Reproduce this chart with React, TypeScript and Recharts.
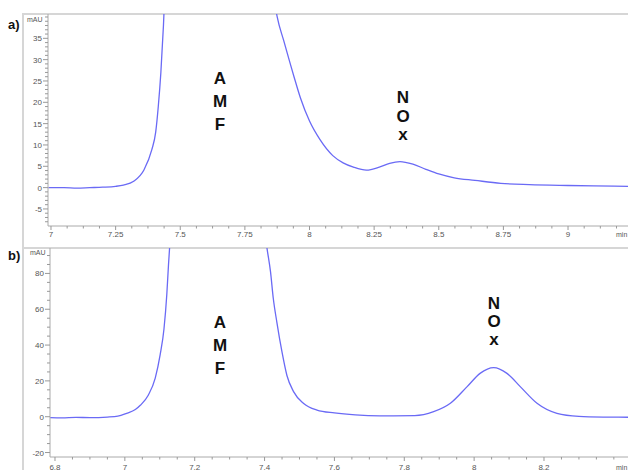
import React from 'react';
import { LineChart, Line, XAxis, YAxis } from 'recharts';

// ---- Data ----
const aTime = [6.99, 7.05, 7.1, 7.15, 7.2, 7.25, 7.28, 7.32, 7.36, 7.39, 7.405, 7.415, 7.425, 7.435, 7.45, 7.5, 7.6, 7.7, 7.8, 7.85, 7.875, 7.9, 7.94, 7.965, 8.0, 8.04, 8.09, 8.13, 8.17, 8.22, 8.27, 8.31, 8.35, 8.4, 8.45, 8.5, 8.56, 8.64, 8.74, 8.85, 9.0, 9.1, 9.232];
const aSignal = [0, 0, -0.1, 0, 0.1, 0.3, 0.6, 1.5, 4.2, 8.9, 13, 19, 27, 38, 60, 150, 400, 300, 90, 50, 40, 34.5, 26, 21, 15.6, 11.3, 7.5, 5.8, 4.8, 4.1, 4.8, 5.7, 6.1, 5.5, 4.3, 3.2, 2.3, 1.7, 1.0, 0.7, 0.5, 0.4, 0.3];

const bTime = [6.786, 6.82, 6.86, 6.9, 6.95, 6.98, 7.005, 7.03, 7.045, 7.067, 7.087, 7.101, 7.112, 7.12, 7.125, 7.13, 7.15, 7.25, 7.35, 7.39, 7.407, 7.417, 7.425, 7.435, 7.45, 7.464, 7.483, 7.511, 7.55, 7.6, 7.66, 7.73, 7.83, 7.884, 7.932, 7.98, 8.017, 8.056, 8.094, 8.132, 8.18, 8.237, 8.3, 8.37, 8.441];
const bSignal = [-0.5, -0.6, -0.4, -0.5, -0.2, 0.3, 1.9, 4, 6.5, 12, 21.5, 34.5, 49, 68, 85, 100, 180, 400, 200, 120, 94, 81, 66, 53, 36, 23, 14, 7.5, 3.7, 2.1, 1, 0.5, 0.6, 2.8, 7.5, 16.8, 24.2, 27.4, 24.2, 16.8, 7.5, 1.9, 0.2, -0.2, -0.3];

const aYMajor = [-5, 0, 5, 10, 15, 20, 25, 30, 35];
const bYMajor = [-20, 0, 20, 40, 60, 80];
const aXLastLabel = 9;
const bXLastLabel = 8.2;

const aRows = aTime.map((t, i) => ({ t, v: aSignal[i] }));
const bRows = bTime.map((t, i) => ({ t, v: bSignal[i] }));

// tick lists (major + minor)
const aXTicks: number[] = [];
for (let i = 112; i <= 147; i++) aXTicks.push(i / 16);
const aXIsMajor = (v: number) => Math.abs(v * 4 - Math.round(v * 4)) < 1e-6 && v <= aXLastLabel + 1e-6;
const bXTicks: number[] = [];
for (let i = 136; i <= 168; i++) bXTicks.push(i / 20);
const bXIsMajor = (v: number) => Math.abs(v * 5 - Math.round(v * 5)) < 1e-6 && v <= bXLastLabel + 1e-6;
const aYTicks: number[] = [];
for (let i = -8; i <= 40; i++) aYTicks.push(i);
const bYTicks: number[] = [];
for (let i = -20; i <= 90; i += 5) bYTicks.push(i);

const FONT = '"Liberation Sans", Arial, sans-serif';
const LINE = '#6a6af5';
const TXT = '#555';
const TCK = '#999';

const makeXTick = (isMajor: (v: number) => boolean, dy: number) => (props: any) => {
  const { x, y, payload } = props;
  const major = isMajor(payload.value);
  return (
    <g>
      <line x1={x} x2={x} y1={y} y2={y + (major ? 4 : 2.5)} stroke={TCK} strokeWidth={1} />
      {major && (
        <text x={x} y={y + dy} textAnchor="middle" fontSize={8} fill={TXT} fontFamily={FONT}>
          {String(payload.value)}
        </text>
      )}
    </g>
  );
};

const makeYTick = (majors: number[]) => (props: any) => {
  const { x, y, payload } = props;
  const major = majors.includes(payload.value);
  return (
    <g>
      <line x1={x - (major ? 5 : 3)} x2={x} y1={y} y2={y} stroke={TCK} strokeWidth={1} />
      {major && (
        <text x={x - 6} y={y + 3} textAnchor="end" fontSize={8} fill={TXT} fontFamily={FONT}>
          {String(payload.value)}
        </text>
      )}
    </g>
  );
};

const Letter = ({ ch, x, y }: { ch: string; x: number; y: number }) => (
  <div
    style={{
      position: 'absolute',
      left: x,
      top: y,
      transform: 'translate(-50%, -50%)',
      fontFamily: FONT,
      fontWeight: 700,
      fontSize: 17,
      lineHeight: '17px',
      color: '#111',
    }}
  >
    {ch}
  </div>
);

const Small = ({ text, x, y, size = 7 }: { text: string; x: number; y: number; size?: number }) => (
  <div
    style={{
      position: 'absolute',
      left: x,
      top: y,
      transform: 'translateY(-50%)',
      fontFamily: FONT,
      fontSize: size,
      lineHeight: `${size}px`,
      color: TXT,
      whiteSpace: 'nowrap',
    }}
  >
    {text}
  </div>
);

export default function App() {
  return (
    <div style={{ position: 'absolute', left: 0, top: 0, width: 628, height: 470, background: '#fff', overflow: 'hidden' }}>
      {/* frames */}
      <div style={{ position: 'absolute', left: 22, top: 13, width: 620, height: 232, borderTop: '2px solid #d6d6d6', borderLeft: '2px solid #d6d6d6' }} />
      <div style={{ position: 'absolute', left: 22, top: 247, width: 620, height: 240, borderTop: '2px solid #d6d6d6', borderLeft: '2px solid #d6d6d6' }} />

      {/* chart a */}
      <div style={{ position: 'absolute', left: 0, top: 0 }}>
        <LineChart width={628} height={246} data={aRows} margin={{ top: 14, right: 0, left: 0, bottom: 0 }}>
          <XAxis
            dataKey="t"
            type="number"
            domain={[6.9884, 9.232]}
            allowDataOverflow
            ticks={aXTicks}
            interval={0}
            tickSize={0}
            tickMargin={0}
            tickLine={false}
            tick={makeXTick(aXIsMajor, 11)}
            height={20}
            axisLine={{ stroke: '#aaa' }}
          />
          <YAxis
            type="number"
            domain={[-9, 40.7]}
            allowDataOverflow
            ticks={aYTicks}
            interval={0}
            tickSize={0}
            tickMargin={0}
            tickLine={false}
            tick={makeYTick(aYMajor)}
            width={48}
            axisLine={{ stroke: '#aaa' }}
          />
          <Line dataKey="v" type="monotone" stroke={LINE} strokeWidth={1.3} dot={false} isAnimationActive={false} />
        </LineChart>
      </div>

      {/* chart b */}
      <div style={{ position: 'absolute', left: 0, top: 248 }}>
        <LineChart width={628} height={222} data={bRows} margin={{ top: 0, right: 0, left: 0, bottom: 0 }}>
          <XAxis
            dataKey="t"
            type="number"
            domain={[6.7857, 8.4405]}
            allowDataOverflow
            ticks={bXTicks}
            interval={0}
            tickSize={0}
            tickMargin={0}
            tickLine={false}
            tick={makeXTick(bXIsMajor, 12.5)}
            height={13}
            axisLine={{ stroke: '#aaa' }}
          />
          <YAxis
            type="number"
            domain={[-22.5, 94.2]}
            allowDataOverflow
            ticks={bYTicks}
            interval={0}
            tickSize={0}
            tickMargin={0}
            tickLine={false}
            tick={makeYTick(bYMajor)}
            width={50}
            axisLine={{ stroke: '#aaa' }}
          />
          <Line dataKey="v" type="monotone" stroke={LINE} strokeWidth={1.3} dot={false} isAnimationActive={false} />
        </LineChart>
      </div>

      {/* panel labels */}
      <div style={{ position: 'absolute', left: 8, top: 24, transform: 'translateY(-50%)', fontFamily: FONT, fontWeight: 700, fontSize: 13, color: '#111' }}>a)</div>
      <div style={{ position: 'absolute', left: 8, top: 255, transform: 'translateY(-50%)', fontFamily: FONT, fontWeight: 700, fontSize: 13, color: '#111' }}>b)</div>

      {/* axis units */}
      <Small text="mAU" x={27} y={19} />
      <Small text="min" x={616} y={234} />
      <Small text="mAU" x={30} y={252} />
      <Small text="min" x={616} y={467} />

      {/* peak annotations a */}
      <Letter ch="A" x={220} y={78} />
      <Letter ch="M" x={220} y={101} />
      <Letter ch="F" x={220} y={124} />
      <Letter ch="N" x={403} y={97} />
      <Letter ch="O" x={403} y={116} />
      <Letter ch="x" x={403} y={134} />

      {/* peak annotations b */}
      <Letter ch="A" x={220} y={322} />
      <Letter ch="M" x={220} y={345} />
      <Letter ch="F" x={220} y={368} />
      <Letter ch="N" x={494} y={303} />
      <Letter ch="O" x={494} y={321} />
      <Letter ch="x" x={494} y={339} />
    </div>
  );
}
